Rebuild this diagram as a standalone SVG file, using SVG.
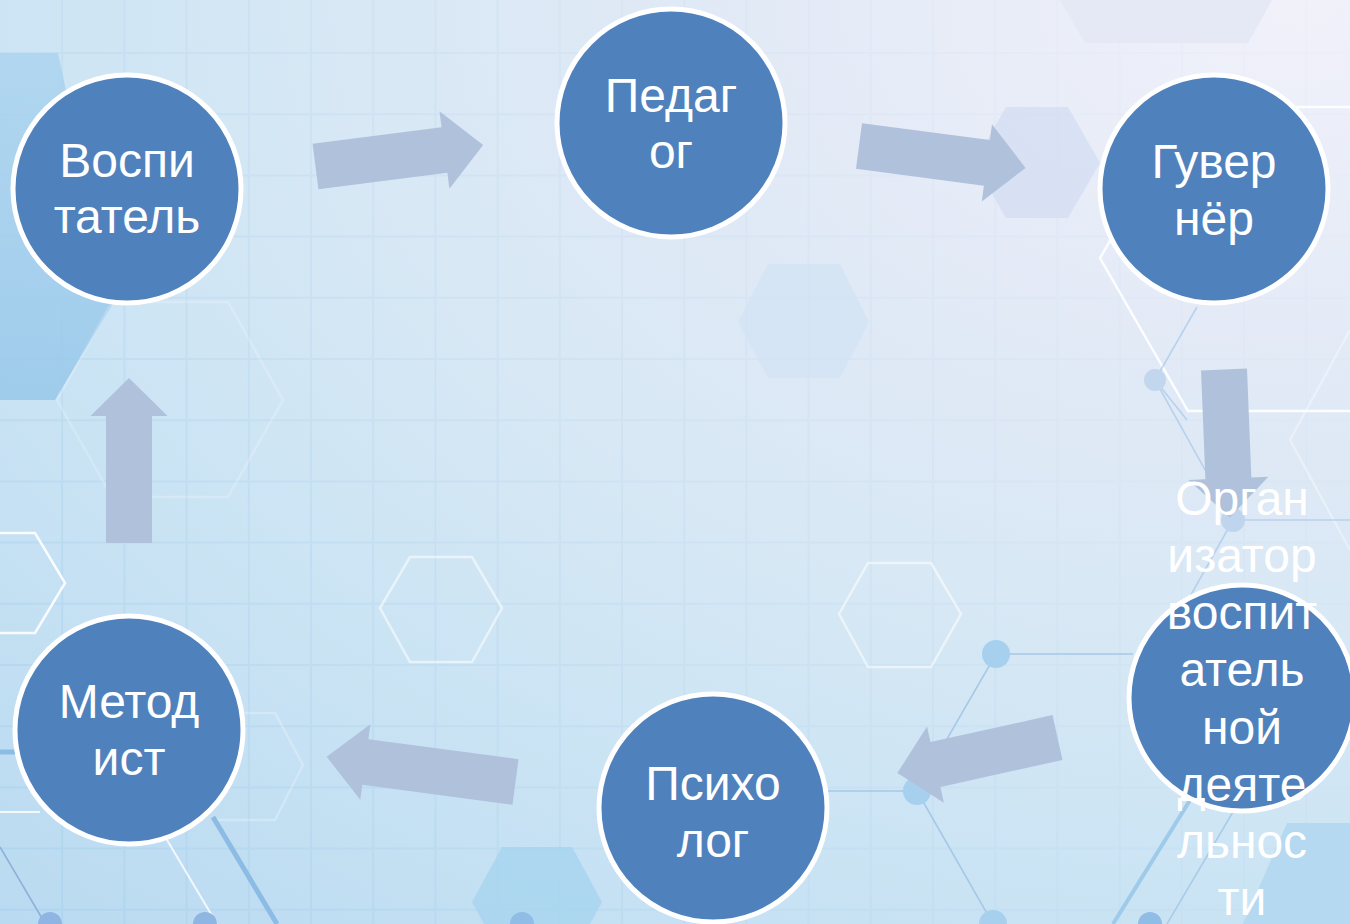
<svg xmlns="http://www.w3.org/2000/svg" width="1350" height="924" viewBox="0 0 1350 924">
  <defs>
    <radialGradient id="bg" gradientUnits="userSpaceOnUse" cx="1300" cy="0" r="1900" gradientTransform="translate(1300 0) scale(1 0.667) translate(-1300 0)">
      <stop offset="0" stop-color="#f1f1fa"/>
      <stop offset="0.33" stop-color="#e0e9f6"/>
      <stop offset="0.5" stop-color="#d8e8f5"/>
      <stop offset="0.7" stop-color="#cbe4f4"/>
      <stop offset="1" stop-color="#b9daf1"/>
    </radialGradient>
    <linearGradient id="gridg" gradientUnits="userSpaceOnUse" x1="0" y1="924" x2="1350" y2="0">
      <stop offset="0" stop-color="#9fcbea" stop-opacity="0.4"/>
      <stop offset="0.6" stop-color="#b4d3ee" stop-opacity="0.18"/>
      <stop offset="1" stop-color="#d6e0f2" stop-opacity="0.08"/>
    </linearGradient>
    <linearGradient id="darkhex" x1="0" y1="0" x2="0" y2="1">
      <stop offset="0" stop-color="#acd4ef"/>
      <stop offset="1" stop-color="#98c8ea"/>
    </linearGradient>
    <style>
      .node circle { fill: #4f81bd; stroke: #ffffff; stroke-width: 5; }
      .node text { font-family: "Liberation Sans", Arial, sans-serif; font-size: 48px; fill: #ffffff; text-anchor: middle; }
      .arrow { fill: #b0c1dc; }
      .hexline { fill: none; stroke: #ffffff; stroke-width: 2.5; }
      .net { fill: none; stroke: #a6c8e8; stroke-width: 1.6; }
      .dot { fill: #a6d0ee; }
    </style>
  </defs>

  <!-- background -->
  <g id="background">
    <rect x="0" y="0" width="1350" height="924" fill="url(#bg)"/>
    <path fill="none" stroke="url(#gridg)" stroke-width="2" d="M62.2,0V924 M124.4,0V924 M186.6,0V924 M248.8,0V924 M311,0V924 M373.2,0V924 M435.4,0V924 M497.6,0V924 M559.8,0V924 M622,0V924 M684.2,0V924 M746.4,0V924 M808.6,0V924 M870.8,0V924 M933,0V924 M995.2,0V924 M1057.4,0V924 M1119.6,0V924 M1181.8,0V924 M1244,0V924 M1306.2,0V924 M0,53H1350 M0,114.2H1350 M0,175.4H1350 M0,236.6H1350 M0,297.8H1350 M0,359H1350 M0,420.2H1350 M0,481.4H1350 M0,542.6H1350 M0,603.8H1350 M0,665H1350 M0,726.2H1350 M0,787.4H1350 M0,848.6H1350 M0,909.8H1350"/>
    <!-- filled hexagons -->
    <polygon points="0,53 58,53 112,305 55,400 0,400" fill="url(#darkhex)" opacity="0.85"/>
    <polygon points="974,163 1006,107 1068,107 1100,163 1068,218 1006,218" fill="#d6e0f3" opacity="0.9"/>
    <polygon points="738,322 768,264 840,264 869,322 840,378 768,378" fill="#d0e2f3" opacity="0.7"/>
    <polygon points="1060,0 1085,43 1248,43 1272,0" fill="#e5e8f5"/>
    <polygon points="472,902 502,847 572,847 602,902 572,957 502,957" fill="#a8d5ef" opacity="0.85"/>
    <polygon points="1287,823 1350,823 1350,924 1243,924" fill="#b4d9f1"/>
    <!-- outline hexagons -->
    <polygon class="hexline" points="380,608 410,557 472,557 502,608 472,662 410,662" opacity="0.55"/>
    <polygon class="hexline" points="839,614 868,563 931,563 961,614 931,667 868,667" opacity="0.55"/>
    <polyline class="hexline" points="0,533 35,533 65,583 35,633 0,633" opacity="0.9"/>
    <polygon class="hexline" points="57,400 112,302 228,302 283,400 228,497 112,497" opacity="0.2"/>
    <polyline class="hexline" points="215,713 275,713 303,765 275,820 215,820" opacity="0.25"/>
    <polyline class="hexline" points="1350,107 1188,107 1100,258 1188,411 1350,411" opacity="0.9"/>
    <polyline class="hexline" points="1350,330 1290,440 1350,550" opacity="0.35"/>
    <!-- network lines -->
    <path class="net" d="M1197,307 L1155,380 L1233,520 M1155,380 L1187,420 M1233,520 H1350 M1233,520 L1160,650" opacity="0.7"/>
    <path class="net" stroke-width="2" d="M1133,654 H996 L917,791 H827 M917,791 L993,924"/>
    <path fill="none" stroke="#8cbbe3" stroke-width="5" d="M213,817 L277,924 M0,752 H20"/>
    <path fill="none" stroke="#ffffff" stroke-width="2" opacity="0.8" d="M167,840 L217,924 M0,812 H40"/>
    <path fill="none" stroke="#8fb0d8" stroke-width="1.6" d="M0,847 L43,920"/>
    <path fill="none" stroke="#9fcbeb" stroke-width="4" d="M1113,924 L1215,760"/>
    <path fill="none" stroke="#a9cbe8" stroke-width="1.5" d="M1167,924 L1240,800"/>
    <circle class="dot" cx="1155" cy="380" r="11" style="fill:#c2d6ee"/>
    <circle class="dot" cx="1233" cy="520" r="12" style="fill:#bfd5ee"/>
    <circle class="dot" cx="996" cy="654" r="14"/>
    <circle class="dot" cx="917" cy="791" r="14"/>
    <circle class="dot" cx="993" cy="924" r="14"/>
    <circle class="dot" cx="50" cy="924" r="12" style="fill:#8fb6e2"/>
    <circle class="dot" cx="205" cy="924" r="12" style="fill:#8fb6e2"/>
    <circle class="dot" cx="522" cy="924" r="12" style="fill:#8fbde6"/>
    <circle class="dot" cx="1150" cy="924" r="12" style="fill:#8fbde6"/>
  </g>

  <!-- connectors -->
  <g id="connectors">
    <path class="arrow" transform="translate(315.5 166.5) rotate(-7.3)" d="M0,-23 H130 V-39 L169,0 L130,39 V23 H0 Z"/>
    <path class="arrow" transform="translate(859 146) rotate(7.5)" d="M0,-23 H129 V-39 L168,0 L129,39 V23 H0 Z"/>
    <path class="arrow" transform="translate(1224 369.5) rotate(87.7)" d="M0,-23 H109 V-40 L148,0 L109,40 V23 H0 Z"/>
    <path class="arrow" transform="translate(1057.5 737.5) rotate(167.5)" d="M0,-23 H125 V-39 L164,0 L125,39 V23 H0 Z"/>
    <path class="arrow" transform="translate(515.5 782) rotate(187.6)" d="M0,-23 H151.5 V-38 L190.5,0 L151.5,38 V23 H0 Z"/>
    <path class="arrow" transform="translate(129 543) rotate(-90)" d="M0,-23 H127 V-38.5 L165,0 L127,38.5 V23 H0 Z"/>
  </g>

  <!-- nodes -->
  <g id="node-vospitatel" class="node">
    <circle cx="127" cy="189" r="114"/>
    <text x="127" y="177">Воспи</text>
    <text x="127" y="233">татель</text>
  </g>
  <g id="node-pedagog" class="node">
    <circle cx="671" cy="123" r="114"/>
    <text x="671" y="112">Педаг</text>
    <text x="671" y="168">ог</text>
  </g>
  <g id="node-guverner" class="node">
    <circle cx="1214" cy="189" r="114"/>
    <text x="1214" y="178">Гувер</text>
    <text x="1214" y="235">нёр</text>
  </g>
  <g id="node-organizator" class="node">
    <circle cx="1242" cy="698" r="113"/>
    <text x="1242" y="515">Орган</text>
    <text x="1242" y="572">изатор</text>
    <text x="1242" y="629">воспит</text>
    <text x="1242" y="686">атель</text>
    <text x="1242" y="744">ной</text>
    <text x="1242" y="801">деяте</text>
    <text x="1242" y="858">льнос</text>
    <text x="1242" y="915">ти</text>
  </g>
  <g id="node-psiholog" class="node">
    <circle cx="713" cy="808" r="114"/>
    <text x="713" y="800">Психо</text>
    <text x="713" y="857">лог</text>
  </g>
  <g id="node-metodist" class="node">
    <circle cx="129" cy="730" r="114"/>
    <text x="129" y="718">Метод</text>
    <text x="129" y="775">ист</text>
  </g>
</svg>
